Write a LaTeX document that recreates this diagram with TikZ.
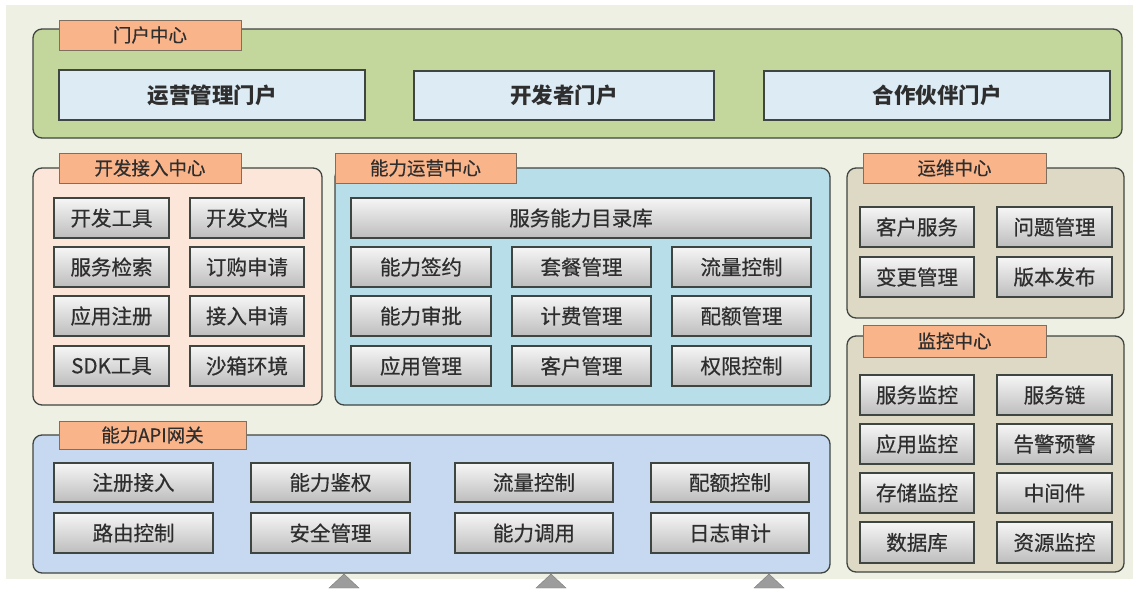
\documentclass[tikz,border=0pt]{standalone}
\usepackage{fontspec}
\newfontfamily\cjk{Noto Sans CJK SC}
\newfontfamily\cjkm[FakeBold=0.6]{Noto Sans CJK SC}
\usetikzlibrary{shadows}
\definecolor{bgc}{HTML}{EEF0E3}
\definecolor{bordc}{HTML}{3F4540}
\definecolor{portalc}{HTML}{C3D69B}
\definecolor{pboxc}{HTML}{DDEBF5}
\definecolor{tabc}{HTML}{F9B48A}
\definecolor{tabbord}{HTML}{7F6F60}
\definecolor{devc}{HTML}{FCE6D9}
\definecolor{opsc}{HTML}{B8DEE9}
\definecolor{tanc}{HTML}{DDD9C4}
\definecolor{apic}{HTML}{C6D9F1}
\definecolor{btntop}{HTML}{F6F6F6}
\definecolor{btnbot}{HTML}{BDBDBD}
\definecolor{txtc}{HTML}{2E2E2E}
\definecolor{tric}{HTML}{9C9C9C}
\tikzset{
  box/.style={rectangle, inner sep=0pt, outer sep=0pt, anchor=north west},
  panel/.style={box, draw=bordc, line width=1.3pt, rounded corners=9pt},
  tabbox/.style={box, draw=tabbord, fill=tabc, line width=1pt, text=txtc,
     font=\cjkm\fontsize{18.5}{19}\selectfont},
  pbox/.style={box, draw=bordc, fill=pboxc, line width=1.4pt, text=txtc,
     font=\cjk\bfseries\fontsize{21.5}{22}\selectfont},
  btn/.style={box, draw=bordc, line width=1.3pt, top color=btntop, bottom color=btnbot,
     text=txtc, font=\cjkm\fontsize{20.5}{21}\selectfont,
     drop shadow={shadow xshift=1.2pt, shadow yshift=-1.2pt, opacity=0.35}},
  tri/.style={fill=tric, draw=tric!80!black, line width=0.4pt}
}
% \bx{style}{name}{x1}{y1}{x2}{y2}{text}
\newcommand\bx[7]{\node[#1, minimum width={(#5-#3)*1pt}, minimum height={(#6-#4)*1pt}] (#2) at (#3,#4) {#7};}
\begin{document}
\begin{tikzpicture}[x=1pt,y=-1pt]
\useasboundingbox (0,0) rectangle (1137,597);
\fill[white] (0,0) rectangle (1137,597);
\fill[bgc] (6,5) rectangle (1133,579);

% portal center
\bx{panel, fill=portalc}{portal}{33}{29}{1122}{138}{}
\bx{tabbox}{tportal}{59}{20}{241}{50}{门户中心}
\bx{pbox}{p1}{59}{70}{365}{120}{运营管理门户}
\bx{pbox}{p2}{414}{71}{714}{120}{开发者门户}
\bx{pbox}{p3}{764}{71}{1110}{120}{合作伙伴门户}

% dev access center
\bx{panel, fill=devc}{dev}{33}{168}{322}{405}{}
\bx{tabbox}{tdev}{59}{153}{241}{183}{开发接入中心}
\bx{btn}{d11}{54}{198}{169}{238}{开发工具}
\bx{btn}{d12}{190}{198}{304}{238}{开发文档}
\bx{btn}{d21}{54}{247}{169}{287}{服务检索}
\bx{btn}{d22}{190}{247}{304}{287}{订购申请}
\bx{btn}{d31}{54}{296}{169}{336}{应用注册}
\bx{btn}{d32}{190}{296}{304}{336}{接入申请}
\bx{btn}{d41}{54}{346}{169}{386}{SDK工具}
\bx{btn}{d42}{190}{346}{304}{386}{沙箱环境}

% capability operations center
\bx{panel, fill=opsc}{ops}{335}{168}{830}{405}{}
\bx{tabbox}{tops}{335}{153}{516}{183}{能力运营中心}
\bx{btn}{o0}{351}{198}{811}{238}{服务能力目录库}
\bx{btn}{o11}{351}{247}{491}{287}{能力签约}
\bx{btn}{o12}{512}{247}{651}{287}{套餐管理}
\bx{btn}{o13}{672}{247}{811}{287}{流量控制}
\bx{btn}{o21}{351}{296}{491}{336}{能力审批}
\bx{btn}{o22}{512}{296}{651}{336}{计费管理}
\bx{btn}{o23}{672}{296}{811}{336}{配额管理}
\bx{btn}{o31}{351}{346}{491}{386}{应用管理}
\bx{btn}{o32}{512}{346}{651}{386}{客户管理}
\bx{btn}{o33}{672}{346}{811}{386}{权限控制}

% O&M center
\bx{panel, fill=tanc}{om}{847}{168}{1124}{318}{}
\bx{tabbox}{tom}{863}{153}{1046}{183}{运维中心}
\bx{btn}{m11}{860}{207}{974}{247}{客户服务}
\bx{btn}{m12}{997}{207}{1112}{247}{问题管理}
\bx{btn}{m21}{860}{257}{974}{297}{变更管理}
\bx{btn}{m22}{997}{257}{1112}{297}{版本发布}

% monitoring center
\bx{panel, fill=tanc}{mon}{847}{336}{1124}{572}{}
\bx{tabbox}{tmon}{863}{325}{1046}{357}{监控中心}
\bx{btn}{j11}{860}{375}{974}{415}{服务监控}
\bx{btn}{j12}{997}{375}{1112}{415}{服务链}
\bx{btn}{j21}{860}{424}{974}{464}{应用监控}
\bx{btn}{j22}{997}{424}{1112}{464}{告警预警}
\bx{btn}{j31}{860}{473}{974}{513}{存储监控}
\bx{btn}{j32}{997}{473}{1112}{513}{中间件}
\bx{btn}{j41}{860}{522}{974}{563}{数据库}
\bx{btn}{j42}{997}{522}{1112}{563}{资源监控}

% API gateway
\bx{panel, fill=apic}{api}{33}{435}{830}{573}{}
\bx{tabbox}{tapi}{59}{421}{246}{449}{能力API网关}
\bx{btn}{a11}{54}{463}{213}{502}{注册接入}
\bx{btn}{a12}{251}{463}{410}{502}{能力鉴权}
\bx{btn}{a13}{455}{463}{613}{502}{流量控制}
\bx{btn}{a14}{651}{463}{809}{502}{配额控制}
\bx{btn}{a21}{54}{513}{213}{553}{路由控制}
\bx{btn}{a22}{251}{513}{410}{553}{安全管理}
\bx{btn}{a23}{455}{513}{613}{553}{能力调用}
\bx{btn}{a24}{651}{513}{809}{553}{日志审计}

% triangles
\foreach \cx in {344,551,769}{
  \filldraw[tri] (\cx-15,588) -- (\cx,574) -- (\cx+15,588) -- cycle;
}
\end{tikzpicture}
\end{document}
